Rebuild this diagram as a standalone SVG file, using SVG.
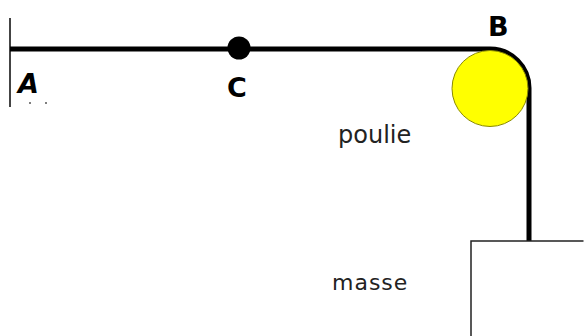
<svg xmlns="http://www.w3.org/2000/svg" width="584" height="336" viewBox="0 0 584 336">
<style>
.rope{fill:none;stroke:#000;stroke-width:5}
.bold{font-family:"DejaVu Sans","Open Sans",sans-serif;font-weight:700;font-size:27px;fill:#000}
.lab{font-family:"DejaVu Sans","Open Sans",sans-serif;font-size:22px;fill:#222}
</style>
<rect width="584" height="336" fill="#fff"/>
<g id="wall"><line x1="10" y1="18" x2="10" y2="107" stroke="#444" stroke-width="2"/><circle cx="30" cy="103" r="1" fill="#555"/><circle cx="46" cy="103" r="1" fill="#555"/></g>
<g id="connectors"><path class="rope" d="M10 49H490A39 39 0 0 1 529 88V241"/></g>
<g id="poulie"><circle cx="490" cy="88.500" r="38" fill="#ffff00" stroke="#8a8a00" stroke-width="1"/></g>
<g id="masse"><path d="M583.500 241H471V336" fill="#fff" stroke="#222" stroke-width="1.500"/></g>
<g id="C"><circle cx="239" cy="48" r="11.500" fill="#000"/></g>
<g id="labels">
<text class="bold" x="18" y="93" font-style="italic">A</text>
<text class="bold" x="488" y="36">B</text>
<text class="bold" x="227" y="97">C</text>
<text class="lab" x="338" y="143" style="font-size:24px">poulie</text>
<text class="lab" x="332" y="290" letter-spacing="1">masse</text>
</g>
</svg>
